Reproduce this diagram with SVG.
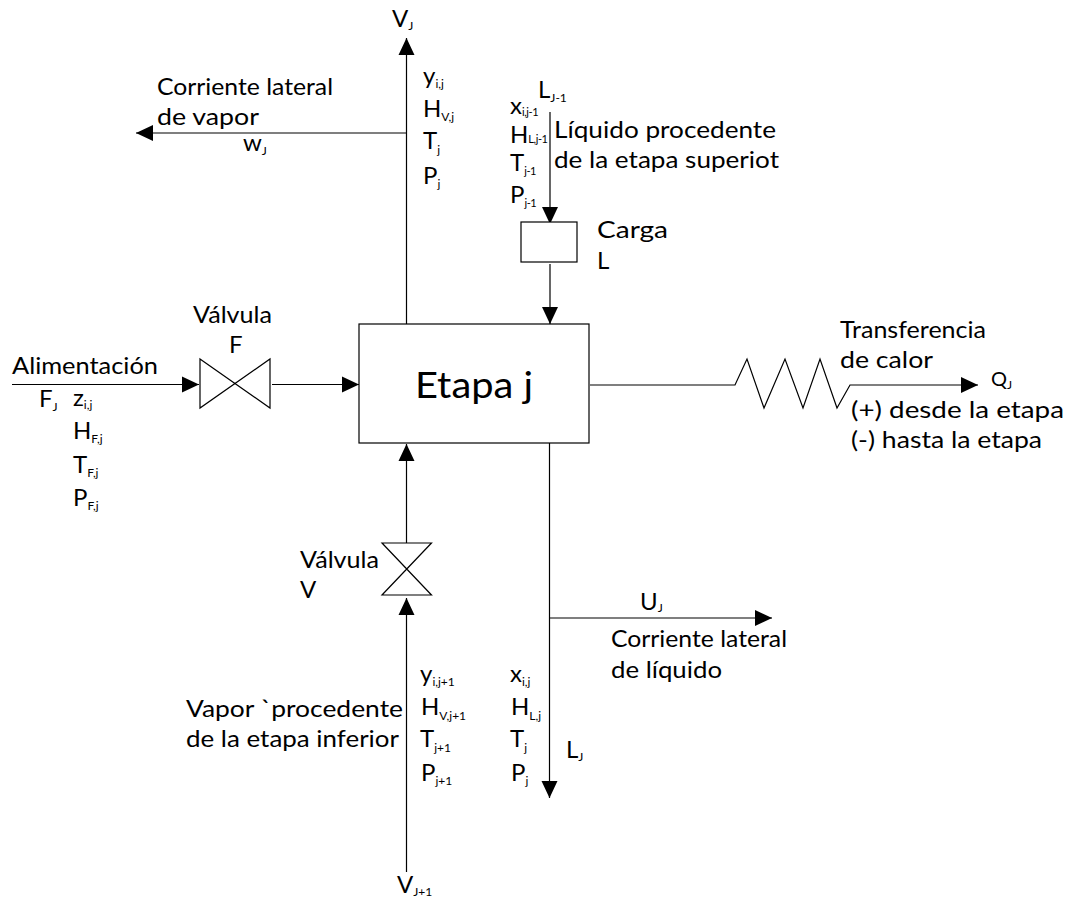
<svg xmlns="http://www.w3.org/2000/svg" width="1071" height="900" viewBox="0 0 1071 900">
<style>
text{font-family:"Lato","Liberation Sans",Arial,sans-serif;font-size:24px;fill:#000}
.s{font-size:12px}
.t{font-size:11px;letter-spacing:-0.4px}
.big{font-size:37px}
.l{fill:none;stroke:#000;stroke-width:1.2}
.n{fill:#fff;stroke:#000;stroke-width:1.2}
</style>
<defs>
<marker id="a" markerUnits="userSpaceOnUse" markerWidth="18" markerHeight="18" refX="17" refY="8.5" orient="auto"><path d="M0 0.5L17 8.5L0 16.5Z" fill="#000"/></marker>
</defs>
<rect width="1071" height="900" fill="#fff"/>
<g id="connectors" class="l">
<path class="l" d="M406.5 324V38" marker-end="url(#a)"/>
<path class="l" d="M406.5 133H136" marker-end="url(#a)"/>
<path class="l" d="M12 384.5H199" marker-end="url(#a)"/>
<path class="l" d="M272 384.5H359" marker-end="url(#a)"/>
<path class="l" d="M550 112V224" marker-end="url(#a)"/>
<path class="l" d="M550 264V324" marker-end="url(#a)"/>
<path class="l" d="M406.5 543V444" marker-end="url(#a)"/>
<path class="l" d="M406.5 872V598" marker-end="url(#a)"/>
<path class="l" d="M549.5 443V798" marker-end="url(#a)"/>
<path class="l" d="M550 618H772" marker-end="url(#a)"/>
<path class="l" d="M590 385H735L747 359L764 408L785 359L803 408L820 359L837 408L850 385H978" marker-end="url(#a)"/>
</g>
<g id="etapa"><rect class="n" x="359" y="324" width="230" height="119"/><text class="big" x="415" y="398" textLength="118" lengthAdjust="spacingAndGlyphs">Etapa j</text></g>
<g id="carga"><rect class="n" x="521" y="222" width="56" height="40"/><text x="597" y="238" textLength="71" lengthAdjust="spacingAndGlyphs">Carga</text><text x="597" y="269">L</text></g>
<g id="valvula-f"><path class="l" d="M200 359L270 408V359L200 408Z"/><text x="193" y="323" textLength="79" lengthAdjust="spacingAndGlyphs">Válvula</text><text x="229" y="353">F</text></g>
<g id="valvula-v"><path class="l" d="M382 543H431.500L382 595H431.500Z"/><text x="300" y="568" textLength="79" lengthAdjust="spacingAndGlyphs">Válvula</text><text x="300" y="598">V</text></g>
<g id="vj"><text x="392" y="27">V<tspan class="s" dy="3">J</tspan></text></g>
<g id="vapor-salida">
<text x="423" y="84">y<tspan class="s" dy="4">i,j</tspan></text>
<text x="423" y="117">H<tspan class="s" dy="4">V,j</tspan></text>
<text x="423" y="149">T<tspan class="s" dy="5">j</tspan></text>
<text x="423" y="184">P<tspan class="s" dy="4">j</tspan></text>
</g>
<g id="lateral-vapor"><text x="157" y="95" textLength="176" lengthAdjust="spacingAndGlyphs">Corriente lateral</text><text x="157" y="125" textLength="102" lengthAdjust="spacingAndGlyphs">de vapor</text><text x="243" y="151">w<tspan class="s" dy="4">J</tspan></text></g>
<g id="liquido-entrada">
<text x="538" y="98">L<tspan class="s" dy="4">J-1</tspan></text>
<text x="510" y="114">x<tspan class="t" dy="2">i,j-1</tspan></text>
<text x="510" y="143">H<tspan class="t" dy="0">L,j-1</tspan></text>
<text x="510" y="171">T<tspan class="t" dy="4">j-1</tspan></text>
<text x="510" y="203">P<tspan class="t" dy="4">j-1</tspan></text>
<text x="554" y="138" textLength="222" lengthAdjust="spacingAndGlyphs">Líquido procedente</text>
<text x="554" y="168" textLength="225" lengthAdjust="spacingAndGlyphs">de la etapa superiot</text>
</g>
<g id="alimentacion">
<text x="12" y="374" textLength="146" lengthAdjust="spacingAndGlyphs">Alimentación</text>
<text x="39" y="407">F<tspan class="s" dy="4">J</tspan></text>
<text x="73" y="406">z<tspan class="s" dy="3">i,j</tspan></text>
<text x="73" y="439">H<tspan class="s" dy="4">F,j</tspan></text>
<text x="73" y="473">T<tspan class="s" dy="4">F,j</tspan></text>
<text x="73" y="506">P<tspan class="s" dy="4">F,j</tspan></text>
</g>
<g id="calor">
<text x="840" y="338" textLength="146" lengthAdjust="spacingAndGlyphs">Transferencia</text>
<text x="840" y="368" textLength="93" lengthAdjust="spacingAndGlyphs">de calor</text>
<text x="991" y="386" style="font-size:20px">Q<tspan class="s" dy="3">J</tspan></text>
<text x="851" y="418" textLength="213" lengthAdjust="spacingAndGlyphs">(+) desde la etapa</text>
<text x="851" y="448" textLength="191" lengthAdjust="spacingAndGlyphs">(-) hasta la etapa</text>
</g>
<g id="lateral-liquido"><text x="640" y="610">U<tspan class="s" dy="2">J</tspan></text><text x="611" y="647" textLength="176" lengthAdjust="spacingAndGlyphs">Corriente lateral</text><text x="611" y="678" textLength="111" lengthAdjust="spacingAndGlyphs">de líquido</text></g>
<g id="vapor-entrada">
<text x="186" y="717" textLength="217" lengthAdjust="spacingAndGlyphs">Vapor `procedente</text>
<text x="186" y="747" textLength="213" lengthAdjust="spacingAndGlyphs">de la etapa inferior</text>
<text x="420" y="682">y<tspan class="s" dy="4">i,j+1</tspan></text>
<text x="421" y="715">H<tspan class="s" dy="5">V,j+1</tspan></text>
<text x="420" y="747">T<tspan class="s" dy="5">j+1</tspan></text>
<text x="421" y="781">P<tspan class="s" dy="4">j+1</tspan></text>
<text x="397" y="893">V<tspan class="s" dy="3">J+1</tspan></text>
</g>
<g id="liquido-salida">
<text x="510" y="682">x<tspan class="s" dy="4">i,j</tspan></text>
<text x="511" y="715">H<tspan class="s" dy="5">L,j</tspan></text>
<text x="510" y="747">T<tspan class="s" dy="5">j</tspan></text>
<text x="511" y="781">P<tspan class="s" dy="4">j</tspan></text>
<text x="566" y="758">L<tspan class="s" dy="3">J</tspan></text>
</g>
</svg>
